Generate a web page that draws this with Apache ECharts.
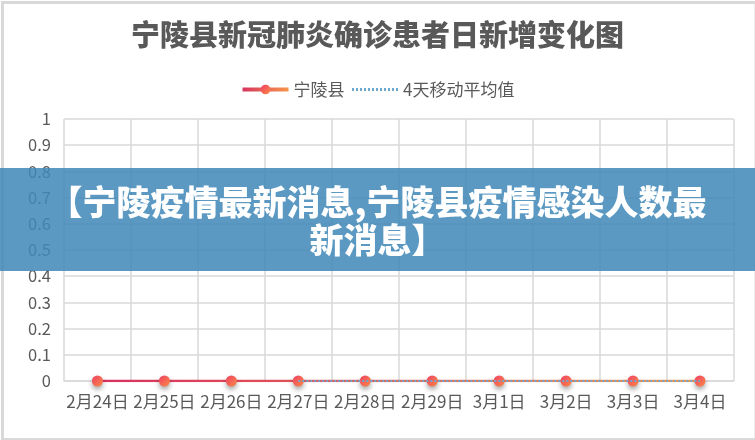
<!DOCTYPE html>
<html><head><meta charset="utf-8">
<script src="https://cdn.jsdelivr.net/npm/echarts@6/dist/echarts.min.js"></script>
<style>html,body{margin:0;padding:0;background:#fff}#c{width:755px;height:440px}</style>
</head><body><div id="c"></div>
<script>
const categories = ['2月24日','2月25日','2月26日','2月27日','2月28日','2月29日','3月1日','3月2日','3月3日','3月4日'];
const newCases = [0,0,0,0,0,0,0,0,0,0];
const movingAvg = ['-','-','-',0,0,0,0,0,0,0];
const yTicks = [0,0.1,0.2,0.3,0.4,0.5,0.6,0.7,0.8,0.9,1];
const titleText = '宁陵县新冠肺炎确诊患者日新增变化图';
const bannerText = '【宁陵疫情最新消息,宁陵县疫情感染人数最\n新消息】';

const FONT = '"Noto Sans CJK SC", "Noto Sans", sans-serif';
const grad = new echarts.graphic.LinearGradient(0,0,1,0,[{offset:0,color:'#d6305f'},{offset:1,color:'#f79a4a'}]);
const dotGrad = new echarts.graphic.LinearGradient(0,0,1,1,[{offset:0,color:'#ef3f64'},{offset:1,color:'#fb8a46'}]);
const chart = echarts.init(document.getElementById('c'));
chart.setOption({
  backgroundColor:'#fff',
  animation:false,
  textStyle:{fontFamily:FONT},
  title:{text:titleText,left:'center',top:15,textStyle:{fontFamily:FONT,fontSize:29,fontWeight:900,color:'#595959'}},
  legend:{top:76,left:'center',itemWidth:46,itemHeight:12,itemGap:6,
    textStyle:{fontFamily:FONT,fontSize:17,color:'#595959'},
    data:[{name:'宁陵县',lineStyle:{width:4}},{name:'4天移动平均值',itemStyle:{opacity:0},lineStyle:{width:3}}]},
  grid:{left:64,right:21.5,top:119,bottom:59,containLabel:false},
  xAxis:{type:'category',data:categories,boundaryGap:true,
    axisLine:{show:true,lineStyle:{color:'#d9d9d9',width:1.5}},
    axisTick:{show:false},
    splitLine:{show:true,interval:0,lineStyle:{color:'#d9d9d9',width:1.5}},
    axisLabel:{interval:0,margin:12,fontFamily:FONT,fontSize:17,color:'#595959'}},
  yAxis:{type:'value',min:0,max:1,interval:0.1,
    axisLine:{show:false},axisTick:{show:false},
    splitLine:{show:true,lineStyle:{color:'#d9d9d9',width:1.5}},
    axisLabel:{margin:13,fontFamily:FONT,fontSize:16.5,color:'#595959',
      formatter:v=>{const t=yTicks.find(x=>Math.abs(x-v)<1e-9);return String(t!==undefined?t:v);}}},
  series:[
    {name:'宁陵县',type:'line',data:newCases,symbol:'circle',symbolSize:11,
      lineStyle:{width:2.5,color:grad},
      itemStyle:{color:dotGrad,shadowColor:'rgba(0,0,0,0.35)',shadowBlur:5,shadowOffsetY:3},
      z:3},
    {name:'4天移动平均值',type:'line',data:movingAvg,symbol:'none',
      lineStyle:{width:2,type:[2,2],color:'#6ea6cf'},itemStyle:{color:'#6ea6cf'},z:4}
  ],
  graphic:[
    {type:'rect',left:0,top:0,shape:{x:0.75,y:1.5,width:753.5,height:437},silent:true,z:-1,
      style:{fill:'none',stroke:'#d9d9d9',lineWidth:3}},
    {type:'rect',shape:{x:0,y:168,width:755,height:103},z:100,
      style:{fill:'rgba(64,136,185,0.86)'}},
    {type:'text',x:377.5,y:221,z:101,
      style:{text:bannerText,fill:'#fff',font:'900 34px "Noto Sans CJK SC", sans-serif',
        align:'center',verticalAlign:'middle',lineHeight:38}}
  ]
});
</script></body></html>
